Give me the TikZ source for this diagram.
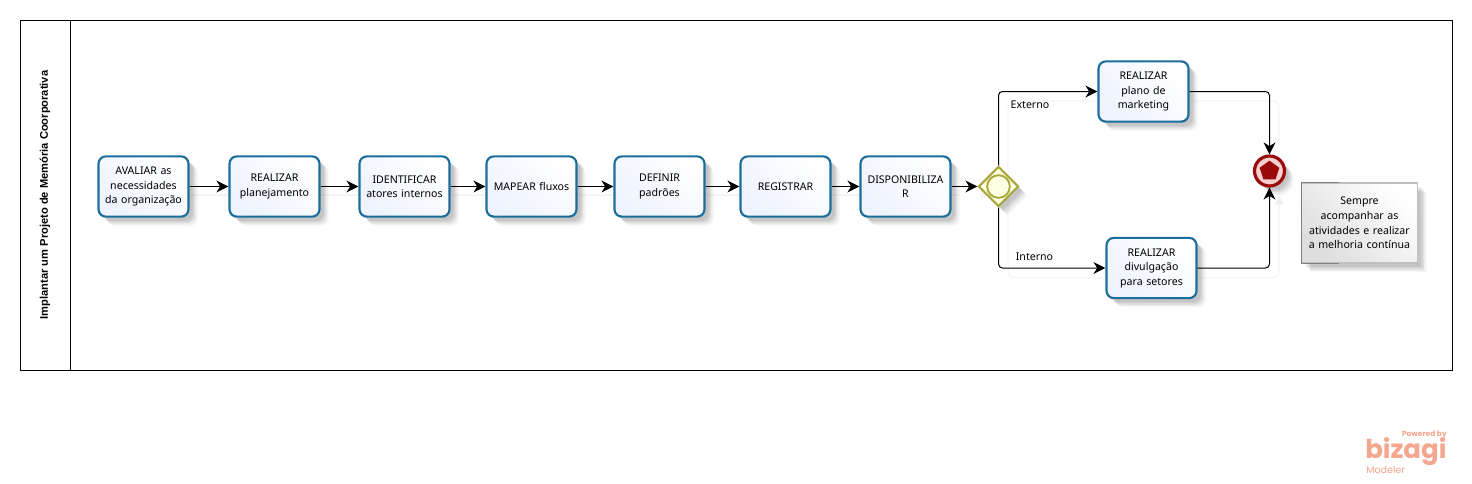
\documentclass[tikz,border=0pt]{standalone}
\usepackage{fontspec}
\setmainfont{Noto Sans}
\newfontfamily\logofont{Poppins}
\newfontfamily\titlefont{Liberation Sans}
\usetikzlibrary{arrows.meta,shapes.geometric,shadows,calc}
\definecolor{taskline}{HTML}{1B6E9C}
\definecolor{taskfill}{HTML}{EEF3FF}
\definecolor{gateline}{HTML}{A8A83A}
\definecolor{gatefill}{HTML}{FFFFE4}
\definecolor{endred}{HTML}{9B0A0A}
\definecolor{endfill}{HTML}{F6CFCF}
\definecolor{logoc}{HTML}{F4A68E}
\tikzset{
  softshadow/.style={
    general shadow={fill=black,draw=none,opacity=.03,shadow xshift=7pt,shadow yshift=-7pt},
    general shadow={fill=black,draw=none,opacity=.04,shadow xshift=6pt,shadow yshift=-6pt},
    general shadow={fill=black,draw=none,opacity=.05,shadow xshift=5pt,shadow yshift=-5pt},
    general shadow={fill=black,draw=none,opacity=.06,shadow xshift=4pt,shadow yshift=-4pt},
    general shadow={fill=black,draw=none,opacity=.06,shadow xshift=3pt,shadow yshift=-3pt}},
  task/.style={draw=taskline,line width=1.6pt,rounded corners=5.5pt,
    minimum width=67.5pt,minimum height=45.2pt,inner sep=0pt,text width=66pt,align=center,
    font=\fontsize{7.95}{10.9}\selectfont,text=black,
    left color=white,right color=taskfill,shading angle=-45,softshadow},
  conn/.style={draw=black,line width=0.75pt,rounded corners=3pt,
    -{Stealth[length=9pt,width=9pt,inset=2.8pt]}},
  ghost/.style={draw=black!4,line width=0.8pt,rounded corners=5pt},
  lane/.style={draw=black,line width=0.8pt,fill=white},
  flowlabel/.style={font=\fontsize{7.95}{10.9}\selectfont,inner sep=0pt,text=black},
}
\begin{document}
\begin{tikzpicture}[x=0.75pt,y=-0.75pt]
\useasboundingbox (0,0) rectangle (1472,483);
\fill[white] (0,0) rectangle (1472,483);
% pool
\node[lane,minimum width=1074pt,minimum height=262.5pt,inner sep=0pt,anchor=north west] (pool) at (19.8,19.8) {};
\coordinate (laneT) at (pool.north west -| 70.5,0);
\coordinate (laneB) at (pool.south west -| 70.5,0);
\draw[black,line width=0.8pt] (laneT) -- (laneB);
\node[rotate=90,font=\titlefont\fontsize{8.35}{10}\selectfont\bfseries,inner sep=0pt] (title) at (45,195) {Implantar um Projeto de Memória Coorporativa};
% connector shadows
\draw[ghost] (1008,101) rectangle (1279,278);
\draw[ghost] (105,195) -- (960,195);
\fill[black!7] (1279,196) -- (1275,204) -- (1283,204) -- cycle;
\fill[black!4] (980,190) -- (988,195) -- (980,200) -- cycle;
% tasks
\node[task] (a) at (143.5,186.5) {AVALIAR as\\necessidades\\da organização};
\node[task] (b) at (274.5,186.5) {REALIZAR\\planejamento};
\node[task] (c) at (404.5,186.5) {IDENTIFICAR\\atores internos};
\node[task] (d) at (531.5,186.5) {MAPEAR fluxos};
\node[task] (e) at (659.5,186.5) {DEFINIR\\padrões};
\node[task] (f) at (785.5,186.5) {REGISTRAR};
\node[task] (g) at (905.5,186.5) {DISPONIBILIZA\\R};
\node[task] (t) at (1143.5,91.5) {REALIZAR\\plano de\\marketing};
\node[task] (u) at (1151.5,268) {REALIZAR\\divulgação\\para setores};
% gateway
\node[diamond,draw=gateline,line width=1.6pt,fill=gatefill,minimum width=30pt,minimum height=30pt,aspect=1,inner sep=0pt,softshadow] (gw) at (998.5,186.5) {};
\node[circle,draw=gateline,line width=1.4pt,fill=gatefill,minimum size=17pt,inner sep=0pt] (gwc) at (gw.center) {};
% end event
\node[circle,draw=endred,line width=2.4pt,fill=endfill,minimum size=22.5pt,inner sep=0pt,softshadow] (end) at (1269.5,171) {};
\node[regular polygon,regular polygon sides=5,fill=endred,minimum size=15.5pt,inner sep=0pt] (pent) at (end.center) {};
% note
\node[draw=black!25,line width=0.8pt,minimum width=86.5pt,minimum height=60pt,inner sep=0pt,text width=84pt,align=center,
  font=\fontsize{7.95}{10.9}\selectfont,left color=white,right color=black!13,shading angle=-45,softshadow] (note) at (1359.5,223) {Sempre\\acompanhar as\\atividades e realizar\\a melhoria contínua};
\draw[black!50,line width=0.8pt] ($(note.north west)+(38,0)$) -- (note.north west) -- (note.south west) -- ($(note.south west)+(38,0)$);
% connectors
\draw[conn] (a) -- (b);
\draw[conn] (b) -- (c);
\draw[conn] (c) -- (d);
\draw[conn] (d) -- (e);
\draw[conn] (e) -- (f);
\draw[conn] (f) -- (g);
\draw[conn] (g) -- (gw);
\draw[conn] (gw.north) |- (t.west);
\draw[conn] (gw.south) |- (u.west);
\draw[conn] (t.east) -| (end.north);
\draw[conn] (u.east) -| (end.south);
% labels
\node[flowlabel] (ext) at (1030,105) {Externo};
\node[flowlabel] (int) at (1034.5,257) {Interno};
% logo
\node[logoc,font=\logofont\fontsize{5.6}{7}\selectfont\bfseries,inner sep=0pt,anchor=east] (pw) at (1447,435) {Powered by};
\node[logoc,font=\logofont\fontsize{19.5}{20}\selectfont\bfseries,inner sep=0pt,anchor=base west] (bz) at (1365,458.5) {bizagi};
\node[logoc,font=\logofont\fontsize{7.2}{8}\selectfont,inner sep=0pt,anchor=west] (md) at (1366,469.5) {Modeler};
\end{tikzpicture}
\end{document}
